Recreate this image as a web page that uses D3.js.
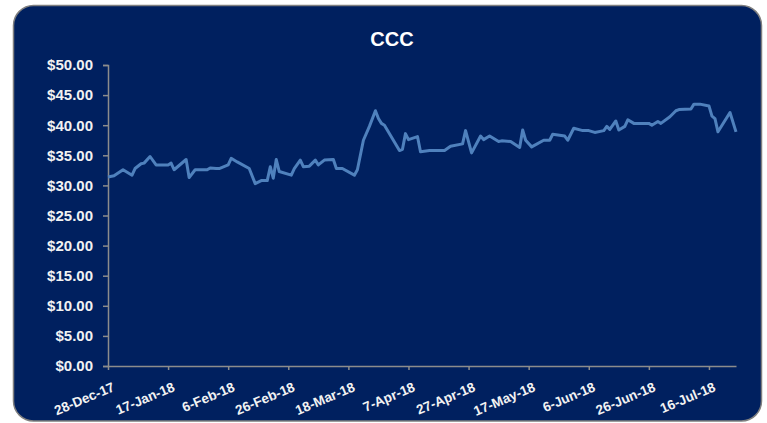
<!DOCTYPE html>
<html>
<head>
<meta charset="utf-8">
<script src="https://cdn.jsdelivr.net/npm/d3@7"></script>
<style>
  html, body { margin: 0; padding: 0; background: #ffffff; }
  svg { display: block; }
</style>
</head>
<body>
<svg id="chart" width="767" height="423"></svg>
<script>
// ---- data ----
const title = "CCC";
const dates = [
  "2017-12-28","2017-12-30","2018-01-02","2018-01-05","2018-01-06","2018-01-08","2018-01-09","2018-01-11",
  "2018-01-13","2018-01-17","2018-01-18","2018-01-19","2018-01-23","2018-01-24","2018-01-26","2018-01-30",
  "2018-01-31","2018-02-02","2018-02-03","2018-02-06","2018-02-07","2018-02-09","2018-02-13","2018-02-15",
  "2018-02-17","2018-02-19","2018-02-20","2018-02-21","2018-02-22","2018-02-23","2018-02-27","2018-02-28",
  "2018-03-02","2018-03-03","2018-03-05","2018-03-07","2018-03-08","2018-03-10","2018-03-13","2018-03-14",
  "2018-03-16","2018-03-20","2018-03-21","2018-03-23","2018-03-25","2018-03-27","2018-03-28","2018-03-29",
  "2018-03-30","2018-04-04","2018-04-05","2018-04-06","2018-04-07","2018-04-10","2018-04-11","2018-04-14",
  "2018-04-19","2018-04-21","2018-04-25","2018-04-26","2018-04-28","2018-05-01","2018-05-02","2018-05-04",
  "2018-05-07","2018-05-08","2018-05-11","2018-05-14","2018-05-15","2018-05-16","2018-05-18","2018-05-22",
  "2018-05-24","2018-05-25","2018-05-29","2018-05-30","2018-06-01","2018-06-04","2018-06-06","2018-06-08",
  "2018-06-11","2018-06-12","2018-06-13","2018-06-15","2018-06-16","2018-06-18","2018-06-19","2018-06-21",
  "2018-06-26","2018-06-27","2018-06-29","2018-06-30","2018-07-03","2018-07-05","2018-07-06","2018-07-10",
  "2018-07-11","2018-07-13","2018-07-16","2018-07-17","2018-07-18","2018-07-19","2018-07-23","2018-07-25"
];
const prices = [
  31.4, 31.6, 32.6, 31.7, 32.8, 33.6, 33.7, 34.8,
  33.4, 33.4, 33.7, 32.6, 34.3, 31.3, 32.6, 32.6,
  32.9, 32.8, 32.8, 33.4, 34.5, 33.9, 32.8, 30.3,
  30.8, 30.8, 33.1, 31.2, 34.3, 32.3, 31.7, 32.8,
  34.2, 33.1, 33.2, 34.2, 33.4, 34.2, 34.3, 32.8,
  32.8, 31.7, 32.6, 37.5, 39.8, 42.4, 41.1, 40.3,
  40.0, 35.8, 36.0, 38.6, 37.6, 38.1, 35.6, 35.8,
  35.8, 36.5, 36.9, 39.1, 35.4, 38.2, 37.6, 38.2,
  37.3, 37.4, 37.3, 36.3, 39.2, 37.5, 36.4, 37.5,
  37.5, 38.5, 38.2, 37.5, 39.5, 39.1, 39.1, 38.8,
  39.1, 39.8, 39.3, 40.7, 39.2, 39.8, 40.9, 40.3,
  40.3, 40.0, 40.6, 40.3, 41.4, 42.4, 42.6, 42.7,
  43.5, 43.5, 43.2, 41.5, 41.1, 38.9, 42.1, 38.9
];
const xDomain = ["2017-12-28", "2018-07-25"];
const xTickDates = ["2017-12-28","2018-01-17","2018-02-06","2018-02-26","2018-03-18","2018-04-07",
                    "2018-04-27","2018-05-17","2018-06-06","2018-06-26","2018-07-16"];
const yTicks = [0, 5, 10, 15, 20, 25, 30, 35, 40, 45, 50];

// ---- drawing ----
const parse = d3.timeParse("%Y-%m-%d");
const data = dates.map((d, i) => ({ date: parse(d), value: prices[i] }));

const svg = d3.select("#chart");
const bg = "#00205F";
const axisColor = "#8c8c8c";
const textColor = "#f2f2f2";
const sans = "'Liberation Sans', Arial, sans-serif";

svg.append("rect")
  .attr("x", 13.5).attr("y", 5.5)
  .attr("width", 748).attr("height", 415.5)
  .attr("rx", 20).attr("ry", 20)
  .attr("fill", bg)
  .attr("stroke", "#7f7f7f").attr("stroke-width", 1.5);

const x = d3.scaleTime().domain(xDomain.map(parse)).range([108, 736]);
const y = d3.scaleLinear().domain([0, 50]).range([366, 65]);

svg.append("text")
  .attr("x", 392).attr("y", 46)
  .attr("text-anchor", "middle")
  .attr("fill", "#ffffff")
  .attr("font-family", sans)
  .attr("font-weight", "bold")
  .attr("font-size", 20)
  .text(title);

// Y axis
const yAxis = svg.append("g")
  .attr("transform", "translate(108,0)")
  .call(d3.axisLeft(y).tickValues(yTicks).tickSize(5).tickPadding(10)
    .tickFormat(d => "$" + d.toFixed(2)));
yAxis.select(".domain").attr("stroke", axisColor).attr("stroke-width", 1.5);
yAxis.selectAll(".tick line").attr("stroke", axisColor).attr("stroke-width", 1.5);
yAxis.selectAll(".tick text")
  .attr("fill", textColor)
  .attr("font-family", sans)
  .attr("font-weight", "bold")
  .attr("font-size", 15);

// X axis
const fmt = d3.timeFormat("%-d-%b-%y");
const xAxis = svg.append("g")
  .attr("transform", "translate(0,366)")
  .call(d3.axisBottom(x).tickValues(xTickDates.map(parse)).tickSize(4).tickSizeOuter(0)
    .tickFormat(fmt));
xAxis.select(".domain").attr("stroke", axisColor).attr("stroke-width", 1.5);
xAxis.selectAll(".tick line").attr("stroke", axisColor).attr("stroke-width", 1.5);
xAxis.selectAll(".tick text")
  .attr("fill", textColor)
  .attr("font-family", sans)
  .attr("font-weight", "bold")
  .attr("font-size", 13.5)
  .attr("text-anchor", "end")
  .attr("dy", null)
  .attr("y", 0)
  .attr("transform", "translate(7,24.5) rotate(-23)");

// Line
const line = d3.line().x(d => x(d.date)).y(d => y(d.value));
svg.append("path")
  .datum(data)
  .attr("d", line)
  .attr("fill", "none")
  .attr("stroke", "#4F81BD")
  .attr("stroke-width", 3)
  .attr("stroke-linejoin", "round");
</script>
</body>
</html>
